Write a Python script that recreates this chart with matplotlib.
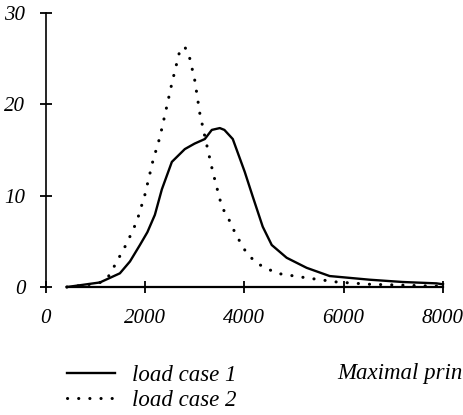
import matplotlib
matplotlib.use("Agg")
from matplotlib import pyplot as plt

plt.rcParams.update({
    "font.family": "Liberation Serif",
    "font.style": "italic",
    "font.size": 15,
})

# load case 1 (solid)
x1 = [430, 700, 1095, 1497, 1700, 1900, 2050, 2201, 2342, 2543, 2804, 3000, 3206,
      3347, 3508, 3600, 3769, 4010, 4171, 4372, 4553, 4854, 5256, 5719, 6523, 7186, 7870, 8000]
y1 = [0.0, 0.2, 0.5, 1.5, 2.8, 4.6, 6.0, 7.9, 10.7, 13.7, 15.1, 15.7, 16.2,
      17.2, 17.4, 17.2, 16.2, 12.6, 9.9, 6.6, 4.6, 3.2, 2.1, 1.2, 0.8, 0.55, 0.4, 0.3]

# load case 2 (dotted)
x2 = [430, 800, 1100, 1250, 1397, 1638, 1839, 2000, 2161, 2302, 2442, 2543, 2704,
      2804, 2905, 3005, 3106, 3206, 3367, 3548, 3709, 3809, 3950, 4050, 4251, 4653,
      5256, 5859, 6523, 7186, 7789, 8000]
y2 = [0.0, 0.2, 0.5, 1.0, 2.4, 4.8, 7.2, 10.1, 13.8, 16.4, 19.8, 22.3, 25.9,
      26.3, 25.0, 22.6, 19.0, 16.5, 12.6, 8.8, 7.2, 6.0, 4.6, 3.7, 2.6, 1.5,
      1.0, 0.55, 0.3, 0.2, 0.1, 0.1]

labels = ["load case 1", "load case 2"]
xlabel = "Maximal principal stress"

fig = plt.figure(figsize=(4.63, 4.15), dpi=100)
ax = fig.add_axes([0.0983, 0.3084, 0.8585, 0.6603])

l1, = ax.plot(x1, y1, color="black", lw=1.7, clip_on=False)
l2, = ax.plot(x2, y2, color="black", lw=2.2, ls=(0, (0.05, 3.6)),
              dash_capstyle="round", clip_on=False)

ax.set_xlim(0, 8000)
ax.set_ylim(0, 30)
ax.set_xticks([0, 2000, 4000, 6000, 8000])
ax.set_yticks([0, 10, 20, 30])
for s in ["top", "right"]:
    ax.spines[s].set_visible(False)
ax.spines["bottom"].set_bounds(430, 8000)
ax.spines["left"].set_linewidth(1.2)
ax.spines["bottom"].set_linewidth(1.6)
ax.tick_params(axis="both", direction="inout", length=9, width=1.3, colors="black")
ax.tick_params(axis="x", pad=11)
ax.tick_params(axis="y", pad=10)

fig.legend([l1, l2], labels, loc="center left", bbox_to_anchor=(67 / 463, 1 - 388 / 415),
           bbox_transform=fig.transFigure, frameon=False, handlelength=2.1,
           handletextpad=0.75, labelspacing=0.2, borderaxespad=0, borderpad=0,
           fontsize=16.5)
fig.text(337 / 463, 1 - 373 / 415, xlabel, ha="left", va="center", fontsize=16.5)

fig.savefig("out.png", dpi=100)
